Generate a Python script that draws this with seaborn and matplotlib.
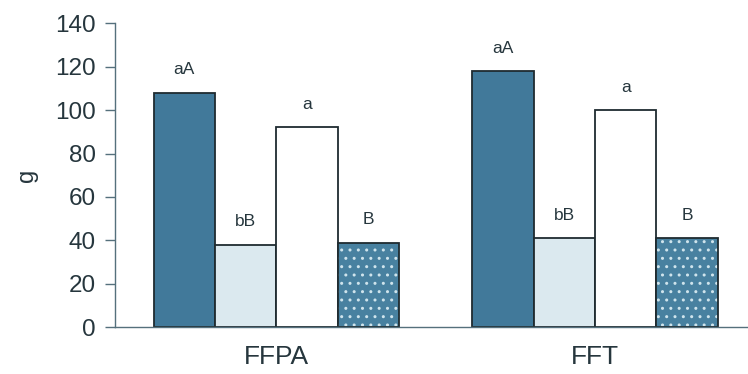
import matplotlib
matplotlib.use("Agg")
import matplotlib.pyplot as plt
import matplotlib.colors as mcolors
import seaborn as sns
import pandas as pd

# Data
groups = ["FFPA", "FFT"]
treatments = ["T1", "T2", "T3", "T4"]
values_ffpa = [108, 38, 92, 39]
values_fft = [118, 41, 100, 41]
letters = ["aA", "bB", "a", "B"]
yticks = [0, 20, 40, 60, 80, 100, 120, 140]

rows = []
for g, vals in zip(groups, [values_ffpa, values_fft]):
    for t, v, lab in zip(treatments, vals, letters):
        rows.append({"group": g, "treatment": t, "value": v, "letter": lab})
df = pd.DataFrame(rows)

sns.set_theme(style="white")
plt.rcParams["font.family"] = ["Liberation Sans", "DejaVu Sans"]
plt.rcParams["hatch.linewidth"] = 1.0

text_col = "#26363d"
edge_col = "#1f2b30"
dot_col = "#cfe4ec"
palette = {"T1": "#41799a", "T2": "#dbe9ef", "T3": "#ffffff", "T4": "#4881a0"}

fig = plt.figure(figsize=(7.48, 3.74), dpi=100)
ax = fig.add_axes([0.154, 0.125, 0.846, 0.813])

sns.barplot(data=df, x="group", y="value", hue="treatment", order=groups,
            hue_order=treatments, palette=palette, saturation=1, width=0.77,
            edgecolor=edge_col, linewidth=1.3, legend=False, ax=ax)

# light dotted fill on the fourth series, letters above every bar
for container, t in zip(ax.containers, treatments):
    if t == "T4":
        for bar in container:
            bar.set_hatch("..")
            if hasattr(bar, "set_hatchcolor"):
                bar.set_hatchcolor(dot_col)
            else:
                bar._hatch_color = mcolors.to_rgba(dot_col)
    labs = df[df["treatment"] == t]["letter"].tolist()
    ax.bar_label(container, labels=labs, padding=11, fontsize=12.5, color=text_col)

ax.set_ylim(0, 140)
ax.set_xlim(-0.506, 1.48)
ax.set_yticks(yticks)
ax.set_yticklabels([str(v) for v in yticks], fontsize=17.5, color=text_col)
ax.set_xticks([0, 1])
ax.set_xticklabels(groups, fontsize=19, color=text_col)
ax.set_xlabel("")
ax.set_ylabel("g", fontsize=17, color=text_col, labelpad=12)

for side in ["top", "right"]:
    ax.spines[side].set_visible(False)
for side in ["left", "bottom"]:
    ax.spines[side].set_color("#55707c")
    ax.spines[side].set_linewidth(1.0)
ax.tick_params(axis="y", which="both", left=True, length=7, width=1.0,
               color="#55707c", pad=7)
ax.tick_params(axis="x", which="both", bottom=False, pad=7)

fig.savefig("out.png", dpi=100)
